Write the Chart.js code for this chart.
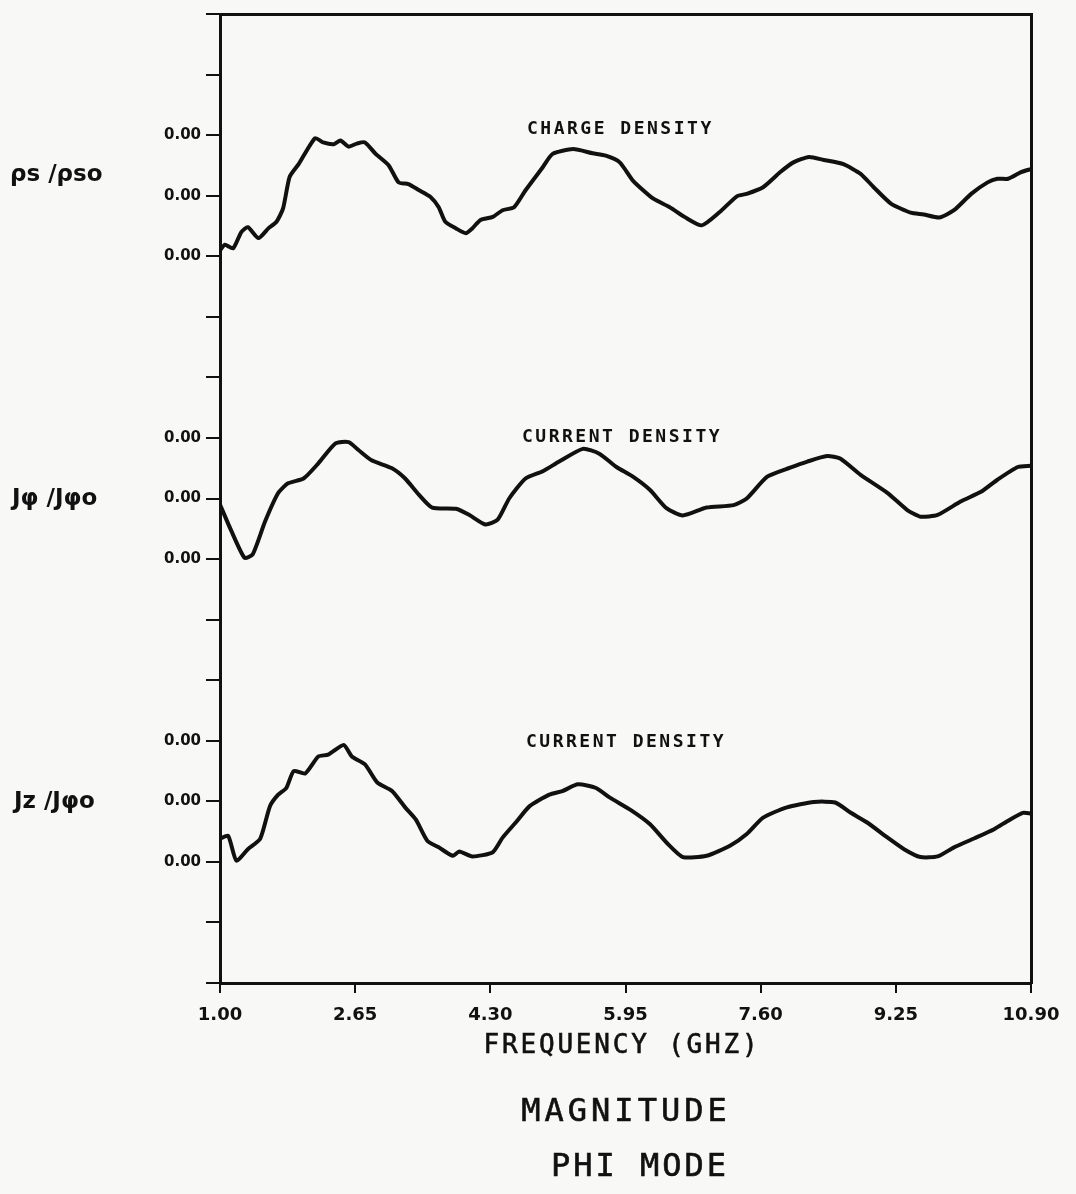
<!DOCTYPE html>
<html>
<head>
<meta charset="utf-8">
<script src="https://cdn.jsdelivr.net/npm/chart.js@4.4.0/dist/chart.umd.min.js"></script>
<style>
    body { margin: 0; background: #f8f8f6; }
    #wrap { position: relative; width: 1076px; height: 1194px; }
    .txt { position: absolute; white-space: nowrap; color: #111; }
    .row { font-family: 'DejaVu Sans', sans-serif; font-weight: bold; font-size: 23px; line-height: 23px; }
    .note { font-family: 'DejaVu Sans Mono', monospace; font-weight: bold; font-size: 18px; line-height: 18px; letter-spacing: 2.5px; }
    .cap { font-family: 'DejaVu Sans Mono', monospace; transform: translateX(-50%); -webkit-text-stroke: 0.6px #111; }
</style>
</head>
<body>
<div id="wrap">
    <canvas id="magChart" width="1076" height="1194"></canvas>

    <div class="txt row" style="left:10px;top:162px;">ρs /ρso</div>
    <div class="txt row" style="left:12px;top:486px;">Jφ /Jφo</div>
    <div class="txt row" style="left:14px;top:789px;">Jz /Jφo</div>

    <div class="txt note" style="left:527px;top:119px;">CHARGE DENSITY</div>
    <div class="txt note" style="left:522px;top:427px;">CURRENT DENSITY</div>
    <div class="txt note" style="left:526px;top:732px;">CURRENT DENSITY</div>

    <div class="txt cap" style="left:622px;top:1029px;font-size:26px;letter-spacing:2.8px;">FREQUENCY (GHZ)</div>
    <div class="txt cap" style="left:626px;top:1091px;font-size:32px;letter-spacing:4px;">MAGNITUDE</div>
    <div class="txt cap" style="left:640px;top:1146px;font-size:32px;letter-spacing:3px;">PHI MODE</div>
</div>

<script>
// frequency axis (GHz)
const xTickValues = [1.00, 2.65, 4.30, 5.95, 7.60, 9.25, 10.90];
const xTickLabels = ['1.00', '2.65', '4.30', '5.95', '7.60', '9.25', '10.90'];

// left axis: 16 divisions, three labelled ticks per panel
const yTickValues = [0, 1, 2, 3, 4, 5, 6, 7, 8, 9, 10, 11, 12, 13, 14, 15, 16];
const yLabelTicks = [2, 3, 4, 7, 8, 9, 12, 13, 14];
const yTickText = '0.00';

// charge density, top panel
const chargeFreq = [1.00, 1.06, 1.16, 1.26, 1.34, 1.47, 1.59, 1.69, 1.77, 1.85,
    1.96, 2.16, 2.26, 2.39, 2.47, 2.57, 2.67, 2.77, 2.90, 3.06,
    3.18, 3.30, 3.43, 3.57, 3.67, 3.75, 3.88, 4.00, 4.08, 4.18,
    4.33, 4.45, 4.59, 4.73, 4.94, 5.06, 5.31, 5.55, 5.71, 5.88,
    6.04, 6.29, 6.49, 6.67, 6.88, 7.10, 7.31, 7.43, 7.63, 7.84,
    8.00, 8.19, 8.37, 8.61, 8.82, 8.98, 9.19, 9.43, 9.59, 9.78,
    9.96, 10.17, 10.37, 10.49, 10.62, 10.78, 10.90];
const chargeVal = [12.10, 12.19, 12.13, 12.40, 12.48, 12.30, 12.46, 12.57, 12.79, 13.31,
    13.52, 13.95, 13.88, 13.85, 13.91, 13.81, 13.86, 13.88, 13.69, 13.50,
    13.22, 13.19, 13.09, 12.98, 12.81, 12.57, 12.46, 12.38, 12.46, 12.60,
    12.65, 12.76, 12.81, 13.09, 13.47, 13.69, 13.77, 13.70, 13.66, 13.55,
    13.25, 12.95, 12.81, 12.65, 12.51, 12.73, 12.99, 13.03, 13.14, 13.39,
    13.55, 13.64, 13.59, 13.52, 13.36, 13.14, 12.87, 12.72, 12.69, 12.64,
    12.76, 13.03, 13.22, 13.28, 13.28, 13.39, 13.44];

// current density J phi, middle panel
const phiFreq = [1.00, 1.14, 1.30, 1.40, 1.55, 1.71, 1.83, 2.02, 2.20, 2.41,
    2.57, 2.69, 2.85, 3.10, 3.26, 3.43, 3.59, 3.88, 4.04, 4.24,
    4.39, 4.53, 4.73, 4.94, 5.14, 5.43, 5.63, 5.84, 6.04, 6.25,
    6.45, 6.65, 6.94, 7.27, 7.43, 7.68, 7.96, 8.17, 8.41, 8.57,
    8.82, 9.15, 9.39, 9.55, 9.76, 10.04, 10.29, 10.49, 10.74, 10.90];
const phiVal = [7.90, 7.46, 7.02, 7.08, 7.62, 8.09, 8.25, 8.33, 8.58, 8.91,
    8.93, 8.80, 8.63, 8.50, 8.33, 8.06, 7.85, 7.83, 7.73, 7.57,
    7.65, 8.00, 8.33, 8.45, 8.61, 8.82, 8.74, 8.52, 8.36, 8.14,
    7.84, 7.72, 7.85, 7.89, 8.00, 8.36, 8.51, 8.61, 8.70, 8.66,
    8.39, 8.09, 7.81, 7.70, 7.73, 7.95, 8.11, 8.31, 8.52, 8.54];

// current density Jz, bottom panel
const zFreq = [1.00, 1.10, 1.20, 1.34, 1.49, 1.61, 1.71, 1.81, 1.90, 2.04,
    2.20, 2.32, 2.51, 2.61, 2.77, 2.92, 3.10, 3.26, 3.39, 3.53,
    3.67, 3.84, 3.92, 4.08, 4.33, 4.45, 4.61, 4.78, 5.02, 5.18,
    5.37, 5.59, 5.76, 6.02, 6.25, 6.45, 6.65, 6.94, 7.23, 7.43,
    7.63, 7.92, 8.25, 8.51, 8.70, 8.90, 9.15, 9.35, 9.55, 9.76,
    9.96, 10.21, 10.45, 10.62, 10.80, 10.90];
const zVal = [2.38, 2.43, 2.02, 2.21, 2.38, 2.92, 3.11, 3.22, 3.50, 3.46,
    3.74, 3.77, 3.93, 3.74, 3.61, 3.31, 3.17, 2.90, 2.70, 2.35,
    2.24, 2.10, 2.17, 2.09, 2.16, 2.40, 2.65, 2.92, 3.11, 3.17,
    3.28, 3.22, 3.06, 2.85, 2.62, 2.32, 2.08, 2.10, 2.27, 2.46,
    2.73, 2.90, 2.99, 2.98, 2.81, 2.65, 2.40, 2.21, 2.08, 2.09,
    2.24, 2.39, 2.54, 2.68, 2.81, 2.80];

const INK = '#111111';

function toPoints(freqs, vals) {
    return freqs.map((f, i) => ({ x: f, y: vals[i] }));
}

function curve(label, freqs, vals) {
    return {
        label: label,
        data: toPoints(freqs, vals),
        borderColor: INK,
        borderWidth: 4,
        pointRadius: 0,
        tension: 0.2,
        fill: false
    };
}

function frameAxis(position, min, max) {
    const horizontal = position === 'top';
    return {
        type: 'linear',
        position: position,
        min: min,
        max: max,
        ticks: { display: false },
        grid: { display: false, drawTicks: false },
        border: { display: true, color: INK, width: 3 },
        afterFit: s => { if (horizontal) s.height = 0; else s.width = 0; }
    };
}

new Chart(document.getElementById('magChart'), {
    type: 'line',
    data: {
        datasets: [
            curve('Charge density', chargeFreq, chargeVal),
            curve('Current density phi', phiFreq, phiVal),
            curve('Current density z', zFreq, zVal)
        ]
    },
    options: {
        responsive: false,
        animation: false,
        devicePixelRatio: 1,
        layout: { padding: { left: 0, top: 10, right: 45, bottom: 165 } },
        plugins: { legend: { display: false }, tooltip: { enabled: false } },
        scales: {
            x: {
                type: 'linear',
                position: 'bottom',
                min: 1,
                max: 10.9,
                afterBuildTicks: s => { s.ticks = xTickValues.map(v => ({ value: v })); },
                afterFit: s => { s.height = 46; },
                ticks: {
                    callback: (v, i) => xTickLabels[i],
                    font: { family: 'DejaVu Sans', weight: 'bold', size: 18 },
                    color: INK,
                    padding: 12,
                    maxRotation: 0,
                    autoSkip: false
                },
                grid: { drawOnChartArea: false, drawTicks: true, tickLength: 10, color: INK, lineWidth: 2 },
                border: { display: true, color: INK, width: 3 }
            },
            y: {
                type: 'linear',
                position: 'left',
                min: 0,
                max: 16,
                afterBuildTicks: s => { s.ticks = yTickValues.map(v => ({ value: v })); },
                afterFit: s => { s.width = 220; },
                ticks: {
                    callback: v => yLabelTicks.includes(v) ? yTickText : '',
                    font: { family: 'DejaVu Sans', weight: 'bold', size: 15 },
                    color: INK,
                    padding: 5,
                    autoSkip: false
                },
                grid: { drawOnChartArea: false, drawTicks: true, tickLength: 14, color: INK, lineWidth: 2 },
                border: { display: true, color: INK, width: 3 }
            },
            xTop: frameAxis('top', 1, 10.9),
            yRight: frameAxis('right', 0, 16)
        }
    }
});
</script>
</body>
</html>
